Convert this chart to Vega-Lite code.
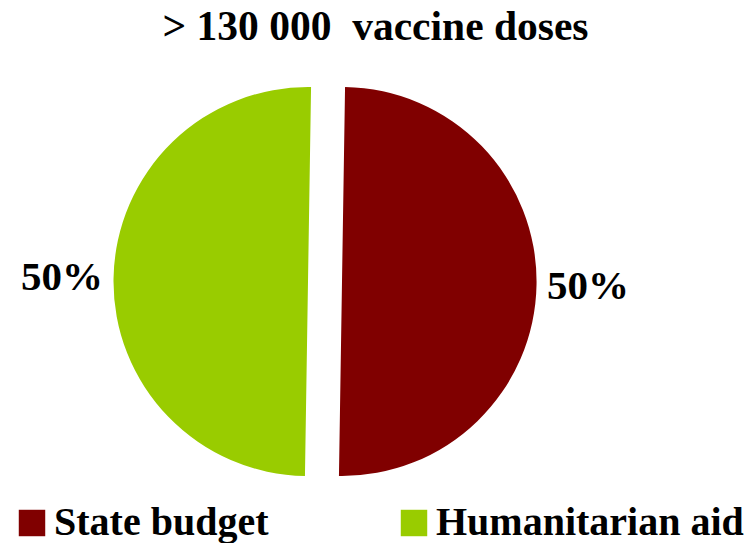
{
  "$schema": "https://vega.github.io/schema/vega-lite/v6.json",
  "width": 606,
  "height": 437,
  "padding": {"left": 21, "top": 6, "right": 2, "bottom": 0},
  "background": "white",
  "title": {
    "text": "> 130 000\u00a0\u00a0vaccine doses",
    "font": "Liberation Serif",
    "fontSize": 41.5,
    "fontWeight": "bold",
    "color": "black",
    "anchor": "middle",
    "frame": "bounds",
    "dx": -7,
    "offset": 15
  },
  "data": {
    "values": [
      {"source": "State budget", "share": 0.5},
      {"source": "Humanitarian aid", "share": 0.5}
    ]
  },
  "transform": [
    {"stack": "share", "groupby": [], "sort": [{"field": "source", "order": "descending"}], "as": ["s0", "s1"]}
  ],
  "layer": [
    {
      "transform": [{"filter": "datum.source === 'State budget'"}],
      "mark": {"type": "arc", "radius": 194.5, "xOffset": 17},
      "encoding": {
        "theta": {"field": "s0", "type": "quantitative", "scale": {"domain": [0, 1], "range": [0.0157, 6.2989]}},
        "theta2": {"field": "s1"},
        "color": {
          "field": "source",
          "type": "nominal",
          "scale": {"domain": ["State budget", "Humanitarian aid"], "range": ["#800000", "#99CC00"]},
          "legend": {
            "orient": "bottom",
            "direction": "horizontal",
            "columns": 2,
            "title": null,
            "symbolType": "square",
            "symbolSize": 700,
            "symbolStrokeWidth": 0,
            "symbolOpacity": 1,
            "symbolOffset": -10,
            "labelFont": "Liberation Serif",
            "labelFontSize": 40,
            "labelFontWeight": "bold",
            "labelColor": "black",
            "labelOffset": 2,
            "labelLimit": 0,
            "columnPadding": 131,
            "offset": 3
          }
        }
      }
    },
    {
      "transform": [{"filter": "datum.source === 'Humanitarian aid'"}],
      "mark": {"type": "arc", "radius": 194.5, "xOffset": -17},
      "encoding": {
        "theta": {"field": "s0", "type": "quantitative", "scale": {"domain": [0, 1], "range": [0.0157, 6.2989]}},
        "theta2": {"field": "s1"},
        "color": {"field": "source", "type": "nominal"}
      }
    },
    {
      "mark": {"type": "text", "radius": 263, "font": "Liberation Serif", "fontSize": 41, "fontWeight": "bold", "color": "black", "dy": 1},
      "encoding": {
        "theta": {"field": "share", "type": "quantitative", "stack": true},
        "order": {"field": "source", "type": "ordinal", "sort": "descending"},
        "text": {"field": "share", "type": "quantitative", "format": ".0%"}
      }
    }
  ]
}
